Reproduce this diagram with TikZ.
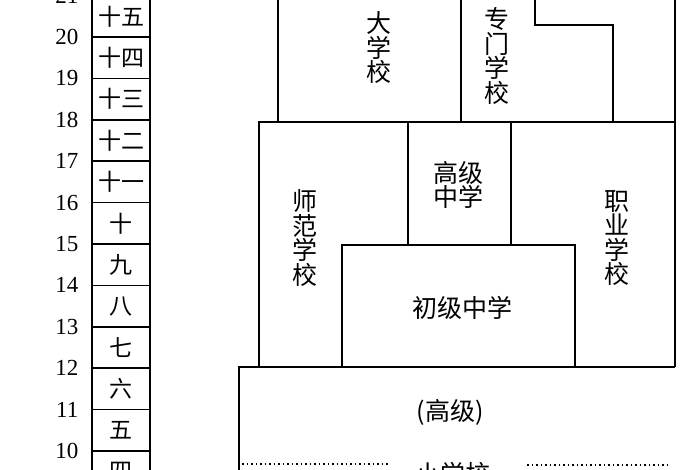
\documentclass[tikz,border=0pt]{standalone}
\usepackage{fontspec}
\setmainfont{Liberation Serif}
\newfontfamily\cjk{Noto Sans CJK SC}

\begin{document}
\begin{tikzpicture}[x=1pt,y=-1pt,line width=1.5pt,
	gradebox/.style={draw,minimum width=58pt,minimum height=41.4pt,inner sep=0pt,font=\cjk\fontsize{23}{24}\selectfont},
	age/.style={anchor=east,inner sep=0pt,font=\fontsize{23}{24}\selectfont},
	school/.style={align=center,inner sep=0pt,font=\cjk\fontsize{25}{24.5}\selectfont},
	sep/.style={line width=1.2pt,dash pattern=on 1.5pt off 3pt}]
	\useasboundingbox (0,0) rectangle (700,470);
	\foreach \g [count=\i from 0] in {十五,十四,十三,十二,十一,十,九,八,七,六,五,四}
		\node[gradebox] (g\i) at (121,{16.3+41.4*\i}) {\g};
	\foreach \a [count=\i from 0] in {21,20,...,10}
		\node[age] (a\a) at (79,{-4.4+41.4*\i}) {\a};
	
	\draw (278,-5) -- (278,122) (461,-5) -- (461,122);
	\draw (535,-5) -- (535,25) -- (613,25) -- (613,122);
	\draw (675,-5) -- (675,367);
	\draw (259,367) -- (259,122) -- (675,122);
	\draw (408,122) -- (408,245) (511,122) -- (511,245);
	\draw (342,367) -- (342,245) -- (575,245) -- (575,367);
	\draw (239,480) -- (239,367) -- (675,367);
	\draw[sep] (242,464) -- (388,464) (527,465) -- (670,465);
	
	\node[school] (dxx) at (379,48) {大\\学\\校};
	\node[school] (zmxx) at (497,56) {专\\门\\学\\校};
	\node[school] (gjzx) at (458,185) {高级\\中学};
	\node[school] (sfxx) at (305,238) {师\\范\\学\\校};
	\node[school] (zyxx) at (617,238) {职\\业\\学\\校};
	\node[school] (cjzx) at (462,308) {初级中学};
	\node[school] (gj) at (450,412) {(高级)};
	\node[school] (xxx) at (453,474) {小学校};
\end{tikzpicture}
\end{document}
